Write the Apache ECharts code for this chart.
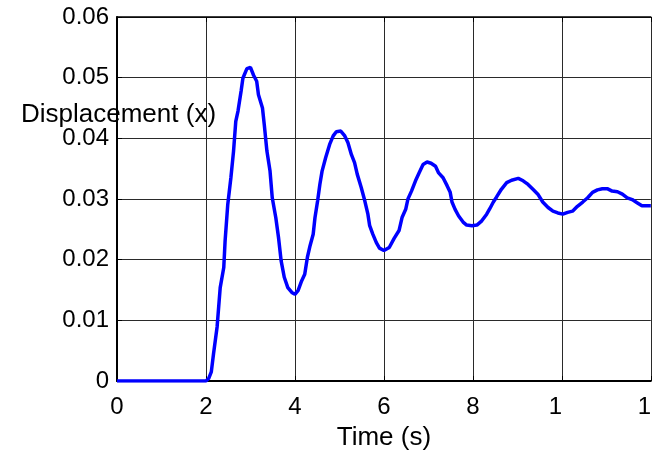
<!DOCTYPE html>
<html>
<head>
<meta charset="utf-8">
<title>Displacement response</title>
<script src="https://cdn.jsdelivr.net/npm/echarts@6/dist/echarts.min.js"></script>
<style>
  html, body { margin: 0; padding: 0; background: #ffffff; }
  #chart { width: 654px; height: 456px; }
</style>
</head>
<body>
<div id="chart"></div>
<script>
// Step response of a damped system: time (s) and displacement (x)
const timeS = [
  0, 2.0, 2.06, 2.12, 2.17, 2.25, 2.32, 2.40, 2.43, 2.49, 2.56, 2.62, 2.67, 2.72, 2.79, 2.83,
  2.92, 3.00, 3.07, 3.14, 3.18, 3.27, 3.31, 3.37, 3.44, 3.49, 3.57, 3.63, 3.69, 3.76,
  3.84, 3.93, 4.00, 4.07, 4.15, 4.22, 4.28, 4.34, 4.41, 4.45, 4.51, 4.56, 4.61, 4.69,
  4.78, 4.86, 4.93, 5.03, 5.12, 5.19, 5.27, 5.34, 5.40, 5.49, 5.57, 5.64, 5.68, 5.75,
  5.83, 5.90, 6.00, 6.12, 6.23, 6.34, 6.41, 6.49, 6.54, 6.62, 6.71, 6.79, 6.88, 6.97,
  7.06, 7.16, 7.23, 7.33, 7.42, 7.49, 7.53, 7.60, 7.68, 7.78, 7.86, 7.98, 8.09, 8.20,
  8.31, 8.38, 8.46, 8.53, 8.64, 8.76, 8.87, 9.02, 9.13, 9.24, 9.35, 9.46, 9.57, 9.69,
  9.80, 9.91, 10.02, 10.13, 10.24, 10.35, 10.47, 10.58, 10.69, 10.80, 10.91, 11.02,
  11.13, 11.25, 11.36, 11.47, 11.58, 11.69, 11.80, 11.95, 12.0
];
const displacement = [
  0, 0, 0.0004, 0.0015, 0.0045, 0.0089, 0.0154, 0.0187, 0.0231, 0.0291, 0.0335, 0.0379, 0.0428, 0.0445, 0.0478, 0.0499,
  0.0515, 0.0517, 0.0504, 0.0494, 0.0472, 0.0450, 0.0423, 0.0379, 0.0346, 0.0302, 0.0269, 0.0237, 0.0198, 0.0171,
  0.0154, 0.0146, 0.0143, 0.0149, 0.0165, 0.0176, 0.0204, 0.0223, 0.0242, 0.0269, 0.0297, 0.0324, 0.0346, 0.0368,
  0.0390, 0.0404, 0.0411, 0.0412, 0.0404, 0.0393, 0.0373, 0.0360, 0.0341, 0.0319, 0.0297, 0.0275, 0.0256, 0.0242,
  0.0228, 0.0219, 0.0215, 0.0220, 0.0235, 0.0248, 0.0270, 0.0283, 0.0300, 0.0313, 0.0330, 0.0343, 0.0357, 0.0361,
  0.0359, 0.0354, 0.0343, 0.0335, 0.0322, 0.0311, 0.0295, 0.0283, 0.0272, 0.0262, 0.0257, 0.0256, 0.0257, 0.0264,
  0.0275, 0.0284, 0.0295, 0.0303, 0.0316, 0.0327, 0.0331, 0.0334, 0.0330, 0.0324, 0.0316, 0.0308, 0.0295, 0.0286,
  0.0280, 0.0277, 0.0275, 0.0278, 0.0280, 0.0288, 0.0295, 0.0302, 0.0311, 0.0315, 0.0317, 0.0317,
  0.0313, 0.0312, 0.0308, 0.0302, 0.0299, 0.0294, 0.0289, 0.0289, 0.0289
];
// Tick labels as printed on each axis
const xTickLabels = ['0', '2', '4', '6', '8', '1', '1'];
const yTickLabels = ['0', '0.01', '0.02', '0.03', '0.04', '0.05', '0.06'];

const FONT = '"Liberation Sans", Arial, Helvetica, sans-serif';
const chart = echarts.init(document.getElementById('chart'), null, { renderer: 'canvas' });

const points = timeS.map((t, i) => [t, displacement[i]]);

chart.setOption({
  animation: false,
  backgroundColor: '#ffffff',
  textStyle: { fontFamily: FONT },
  grid: { left: 117, top: 17, width: 539, height: 366, containLabel: false },
  graphic: [{
    type: 'text',
    left: 21,
    top: 102,
    z: 1,
    style: { text: 'Displacement (x)', fontSize: 26, fontFamily: FONT, fill: '#000000' }
  }],
  xAxis: [{
    type: 'value',
    min: 0, max: 12, interval: 2,
    name: 'Time (s)',
    nameLocation: 'middle',
    nameGap: 44,
    nameTextStyle: { fontSize: 26, color: '#000000', fontFamily: FONT },
    axisLine: { show: true, onZero: false, lineStyle: { color: '#000000', width: 2 } },
    axisTick: { show: true, inside: true, length: 5, lineStyle: { color: '#000000' } },
    axisLabel: {
      fontSize: 24, color: '#000000', margin: 14, fontFamily: FONT,
      formatter: (v) => {
        const s = xTickLabels[Math.round(v / 2)];
        return v >= 10 ? '{cut|' + s + '}' : s;
      },
      // the two-digit ticks print only their leading digit, left of the tick
      rich: { cut: { fontSize: 24, color: '#000000', fontFamily: FONT, padding: [0, 13, 0, 0] } }
    },
    splitLine: { show: true, lineStyle: { color: '#2a2a2a', width: 1 } }
  }, {
    type: 'value',
    position: 'top',
    min: 0, max: 12, interval: 2,
    axisLine: { show: true, onZero: false, lineStyle: { color: '#000000', width: 1.5 } },
    axisTick: { show: true, inside: true, length: 5, lineStyle: { color: '#000000' } },
    axisLabel: { show: false },
    splitLine: { show: false }
  }],
  yAxis: {
    type: 'value',
    min: 0, max: 0.06, interval: 0.01,
    axisLine: { show: true, onZero: false, lineStyle: { color: '#000000', width: 2 } },
    axisTick: { show: true, inside: true, length: 5, lineStyle: { color: '#000000' } },
    axisLabel: {
      fontSize: 24, color: '#000000', margin: 8, fontFamily: FONT,
      formatter: (v) => yTickLabels[Math.round(v * 100)]
    },
    splitLine: { show: true, lineStyle: { color: '#2a2a2a', width: 1 } }
  },
  series: [{
    type: 'line',
    data: points,
    showSymbol: false,
    smooth: false,
    clip: true,
    lineStyle: { color: '#0000ff', width: 3.5 },
    z: 3
  }]
});
</script>
</body>
</html>
